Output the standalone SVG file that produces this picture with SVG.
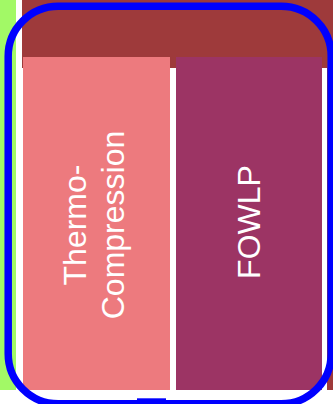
<svg xmlns="http://www.w3.org/2000/svg" width="333" height="404" viewBox="0 0 333 404">
  <style>
    .lbl { font-family: "Liberation Sans", Arial, sans-serif; font-size: 32px; fill: #ffffff; text-anchor: middle; }
  </style>
  <rect x="0" y="0" width="333" height="404" fill="#ffffff"/>
  <!-- side strip -->
  <rect x="0" y="0" width="16" height="390" fill="#a2f966"/>
  <!-- header band and right edge -->
  <g id="header">
    <rect x="22" y="0" width="311" height="68" fill="#9e3a3b"/>
    <rect x="327" y="0" width="6" height="390" fill="#9e3a3b"/>
  </g>
  <g id="thermo-compression">
    <rect x="23" y="57" width="147" height="333" fill="#ed7a7e"/>
    <g transform="translate(96.5,225) rotate(-90)">
      <text class="lbl" x="0" y="-11">Thermo-</text>
      <text class="lbl" x="0" y="27">Compression</text>
    </g>
  </g>
  <g id="fowlp">
    <rect x="176" y="57" width="146" height="333" fill="#9c3464"/>
    <text class="lbl" transform="translate(249,222) rotate(-90)" x="0" y="11">FOWLP</text>
  </g>
  <!-- selection outline -->
  <g id="connectors">
    <rect x="8.2" y="6.3" width="323" height="397.5" rx="50" ry="50" fill="none" stroke="#0000ff" stroke-width="7.5"/>
    <rect x="137" y="398.3" width="29" height="3" fill="#0000ff"/>
  </g>
</svg>
